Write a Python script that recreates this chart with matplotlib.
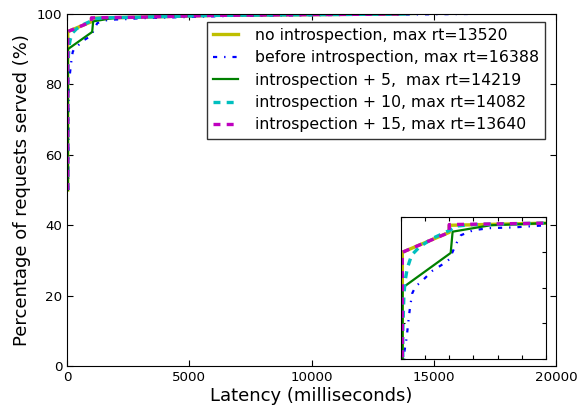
import matplotlib
matplotlib.use("Agg")
import matplotlib.pyplot as plt

plt.rcParams["lines.scale_dashes"] = False

# latency (ms) / percentage served
no_intro_x = [30, 30, 1000, 1000, 3000, 6000, 13520]
no_intro_y = [50, 95, 97.8, 98.8, 99.1, 99.6, 100]

before_x = [50, 68, 118, 151, 186, 234, 304, 414, 655, 910, 1000, 1152, 1241, 1497, 1827, 2324, 3000, 7000, 16388]
before_y = [50, 80.8, 82.9, 85, 87.1, 89.2, 90.2, 90.8, 92.4, 93.5, 94, 96.3, 97.4, 98.1, 98.4, 98.5, 98.8, 99.5, 100]

intro5_x = [35, 35, 1030, 1070, 1850, 3000, 6000, 14219]
intro5_y = [50, 90, 94.9, 97.9, 98.8, 99.1, 99.6, 100]

intro10_x = [40, 40, 60, 83, 131, 221, 393, 669, 1014, 1152, 1500, 3000, 6000, 14082]
intro10_y = [50, 84, 88.5, 90.8, 92.7, 94.6, 95.8, 97, 98.1, 98.7, 98.9, 99.1, 99.6, 100]

intro15_x = [30, 30, 1000, 1000, 3000, 6000, 13640]
intro15_y = [50, 95, 97.8, 98.9, 99.1, 99.6, 100]

labels = [
    "no introspection, max rt=13520",
    "before introspection, max rt=16388",
    "introspection + 5,  max rt=14219",
    "introspection + 10, max rt=14082",
    "introspection + 15, max rt=13640",
]

series = [
    (no_intro_x, no_intro_y, dict(color="y", ls="-", lw=2.4)),
    (before_x, before_y, dict(color="b", dashes=(3, 5, 1, 5), lw=1.6)),
    (intro5_x, intro5_y, dict(color="g", ls="-", lw=1.6)),
    (intro10_x, intro10_y, dict(color="c", dashes=(5, 4.5), lw=2.4)),
    (intro15_x, intro15_y, dict(color="m", dashes=(5, 4.5), lw=2.4)),
]

fig = plt.figure(figsize=(5.81, 4.09), dpi=100)
ax = fig.add_axes([0.1153, 0.1051, 0.8417, 0.8607])

for (x, y, st), lab in zip(series, labels):
    ax.plot(x, y, label=lab, **st)

ax.set_xlim(0, 20000)
ax.set_ylim(0, 100)
ax.set_xticks([0, 5000, 10000, 15000, 20000])
ax.set_yticks([0, 20, 40, 60, 80, 100])
ax.tick_params(direction="in", top=True, right=True, labelsize=9.6, length=4)
ax.set_xlabel("Latency (milliseconds)", fontsize=13, labelpad=2)
ax.set_ylabel("Percentage of requests served (%)", fontsize=13, labelpad=4)

leg = ax.legend(loc="upper right", bbox_to_anchor=(0.938, 0.947),
                bbox_transform=fig.transFigure, borderaxespad=0,
                fontsize=11.3, fancybox=False,
                handlelength=1.6, handletextpad=1.05, labelspacing=0.47)
leg.get_frame().set_edgecolor("black")
leg.get_frame().set_linewidth(1)

# zoomed inset of the top-left corner
ins = fig.add_axes([0.690, 0.123, 0.2496, 0.347])
for x, y, st in series:
    ins.plot(x, y, **st)
ins.set_xlim(0, 3000)
ins.set_ylim(80, 100)
ins.set_xticks([0, 500, 1000, 1500, 2000, 2500, 3000])
ins.set_yticks([80, 85, 90, 95, 100])
ins.tick_params(direction="in", top=True, right=True, labelbottom=False, labelleft=False, length=3)

fig.savefig("out.png", dpi=100)
